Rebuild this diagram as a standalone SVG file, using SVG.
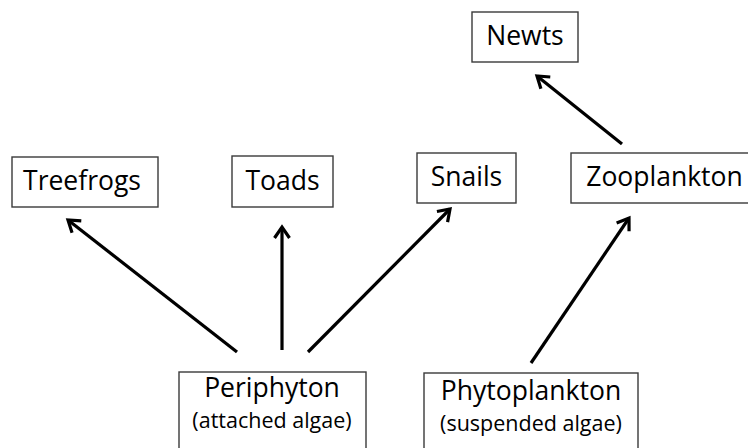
<svg xmlns="http://www.w3.org/2000/svg" width="748" height="448" viewBox="0 0 748 448">
<style>
.box{fill:#fff;stroke:#3a3a3a;stroke-width:1.4}
.t{font-family:"Open Sans",Lato,"Liberation Sans",sans-serif;font-size:26.5px;fill:#000;text-anchor:middle}
.s{font-family:"Open Sans",Lato,"Liberation Sans",sans-serif;font-size:21.5px;fill:#000;text-anchor:middle}
.c{stroke:#000;stroke-width:3.2;fill:none}
</style>
<defs>
<marker id="ah" markerUnits="userSpaceOnUse" markerWidth="30" markerHeight="30" viewBox="-15 -15 30 30" refX="0" refY="0" orient="auto">
<path d="M-11,-7.5 L0,0 L-11,7.5" fill="none" stroke="#000" stroke-width="3.2" stroke-linejoin="miter"/>
</marker>
</defs>
<rect width="748" height="448" fill="#fff"/>
<g id="connectors">
<line class="c" x1="237" y1="352" x2="68" y2="220" marker-end="url(#ah)"/>
<line class="c" x1="282" y1="350" x2="282" y2="227" marker-end="url(#ah)"/>
<line class="c" x1="308" y1="352" x2="450" y2="209" marker-end="url(#ah)"/>
<line class="c" x1="622" y1="144" x2="537" y2="76" marker-end="url(#ah)"/>
<line class="c" x1="531" y1="363" x2="629" y2="218" marker-end="url(#ah)"/>
</g>
<g id="treefrogs"><rect class="box" x="12" y="157" width="146" height="50"/><text class="t" x="82" y="190">Treefrogs</text></g>
<g id="toads"><rect class="box" x="232" y="156" width="101" height="51"/><text class="t" x="282.5" y="190">Toads</text></g>
<g id="snails"><rect class="box" x="417" y="153" width="99" height="50"/><text class="t" x="466.5" y="186">Snails</text></g>
<g id="zooplankton"><rect class="box" x="571" y="153" width="180" height="50"/><text class="t" x="664.5" y="186">Zooplankton</text></g>
<g id="newts"><rect class="box" x="472" y="12" width="106" height="50"/><text class="t" x="525" y="45">Newts</text></g>
<g id="periphyton"><rect class="box" x="179" y="372" width="187" height="80"/><text class="t" x="272" y="397">Periphyton</text><text class="s" x="272" y="428">(attached algae)</text></g>
<g id="phytoplankton"><rect class="box" x="424" y="373" width="214" height="80"/><text class="t" x="531" y="400">Phytoplankton</text><text class="s" x="531" y="431">(suspended algae)</text></g>
</svg>
